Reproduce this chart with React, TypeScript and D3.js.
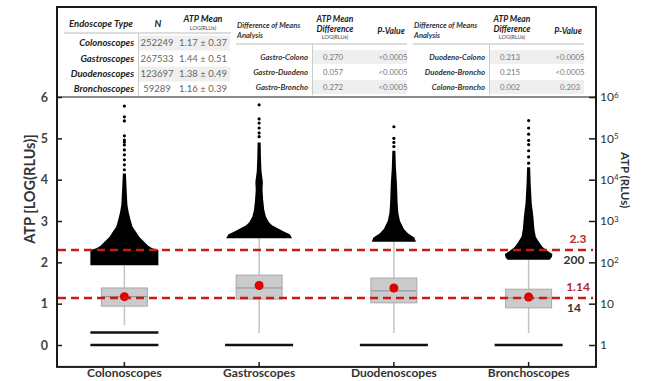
import * as d3 from 'd3';
import { useRef, useEffect } from 'react';

// categories and box statistics, LOG(RLUs)
const categories = ['Colonoscopes', 'Gastroscopes', 'Duodenoscopes', 'Bronchoscopes'];
const whiskerLow = [0.48, 0.29, 0.29, 0.29];
const q1 = [0.94, 1.11, 1.02, 0.9];
const median = [1.17, 1.38, 1.31, 1.14];
const q3 = [1.38, 1.69, 1.62, 1.35];
const whiskerHigh = [1.93, 2.58, 2.5, 2.06];
const means = [1.17, 1.44, 1.38, 1.16];

// low outliers (dense rows of points)
const lowOutliers = [[0, 0.3], [0], [0], [0]];

// high outlier density profiles: [value, relative spread]
const colonoDensity = [[1.93, 1], [2.3, 1], [2.34, 0.82], [2.4, 0.7], [2.47, 0.62], [2.54, 0.53], [2.61, 0.44], [2.73, 0.35], [2.86, 0.24], [3.03, 0.18], [3.2, 0.13], [3.39, 0.09], [3.63, 0.075], [3.87, 0.06], [4.15, 0.045]];
const gastroDensity = [[2.58, 0.97], [2.68, 0.9], [2.74, 0.74], [2.8, 0.6], [2.9, 0.38], [2.97, 0.29], [3.1, 0.2], [3.27, 0.15], [3.5, 0.12], [3.75, 0.1], [3.95, 0.11], [4.2, 0.07], [4.5, 0.055], [4.9, 0.045]];
const duodenoDensity = [[2.5, 0.65], [2.6, 0.6], [2.7, 0.42], [2.8, 0.3], [3.0, 0.18], [3.2, 0.13], [3.44, 0.11], [3.9, 0.09], [4.3, 0.06], [4.7, 0.045]];
const bronchoDensity = [[2.06, 0.62], [2.12, 0.68], [2.2, 0.7], [2.26, 0.58], [2.37, 0.41], [2.5, 0.3], [2.62, 0.21], [2.8, 0.17], [3.1, 0.14], [3.44, 0.09], [3.92, 0.06], [4.3, 0.045]];
const densities = [colonoDensity, gastroDensity, duodenoDensity, bronchoDensity];

// isolated high outliers
const colonoSparse = [4.24, 4.36, 4.48, 4.6, 4.72, 4.84, 4.91, 4.96, 5.06, 5.42, 5.52, 5.78];
const gastroSparse = [5.04, 5.13, 5.25, 5.37, 5.47, 5.81];
const duodenoSparse = [4.8, 4.9, 5.0, 5.28];
const bronchoSparse = [4.4, 4.55, 4.7, 4.85, 4.95, 5.1, 5.25, 5.43];
const sparse = [colonoSparse, gastroSparse, duodenoSparse, bronchoSparse];

// reference lines
const refLines = [2.3, 1.14];
const refRlu = ['200', '14'];

// axis ticks
const leftTicks = [0, 1, 2, 3, 4, 5, 6];
const rightTicks = [0, 1, 2, 3, 4, 5, 6];

// table data
const nValues = ['252249', '267533', '123697', '59289'];
const atpMeanText = ['1.17 ± 0.37', '1.44 ± 0.51', '1.38 ± 0.49', '1.16 ± 0.39'];
const gastroPairs = ['Gastro-Colono', 'Gastro-Duodeno', 'Gastro-Broncho'];
const gastroDiffs = ['0.270', '0.057', '0.272'];
const gastroPValues = ['<0.0005', '<0.0005', '<0.0005'];
const otherPairs = ['Duodeno-Colono', 'Duodeno-Broncho', 'Colono-Broncho'];
const otherDiffs = ['0.213', '0.215', '0.002'];
const otherPValues = ['<0.0005', '<0.0005', '0.203'];

const FONT = 'Lato, "Open Sans", sans-serif';

export default function App() {
  const ref = useRef<SVGSVGElement>(null);

  useEffect(() => {
    const svg = d3.select(ref.current);
    svg.selectAll('*').remove();

    const left = 57, right = 596, top = 7;
    const x = d3.scaleBand().domain(categories).range([left, right]).padding(0);
    const y = d3.scaleLinear().domain([0, 6]).range([345, 97]);
    const bottom = y(-0.53);
    const spread = d3.scaleLinear().domain([0, 1]).range([0, 34]);
    const cx = (i: number) => (x(categories[i]) as number) + x.bandwidth() / 2;
    const boxHalf = 23;

    // ----- tables -----
    const t = svg.append('g').style('font-family', FONT);
    const rowY1 = [43, 59, 74, 89];
    rowY1.forEach((ry, i) => {
      if (i % 2 === 0) t.append('rect').attr('x', 139).attr('y', ry - 7.5).attr('width', 91).attr('height', 15).attr('fill', '#efefef');
    });
    t.append('line').attr('x1', 64).attr('x2', 231).attr('y1', 33).attr('y2', 33).attr('stroke', '#bbb').attr('stroke-width', 1);
    t.append('line').attr('x1', 138.5).attr('x2', 138.5).attr('y1', 33).attr('y2', 96).attr('stroke', '#ccc').attr('stroke-width', 1);
    t.append('text').attr('x', 101).attr('y', 24).attr('dy', '0.35em').attr('text-anchor', 'middle')
      .style('font-size', '9.5px').style('font-weight', 700).style('font-style', 'italic').attr('fill', '#222').text('Endoscope Type');
    t.append('text').attr('x', 158).attr('y', 24).attr('dy', '0.35em').attr('text-anchor', 'middle')
      .style('font-size', '9.5px').style('font-weight', 700).style('font-style', 'italic').attr('fill', '#222').text('N');
    t.append('text').attr('x', 203).attr('y', 19).attr('dy', '0.35em').attr('text-anchor', 'middle')
      .style('font-size', '9px').style('font-weight', 700).style('font-style', 'italic').attr('fill', '#222').text('ATP Mean');
    t.append('text').attr('x', 203).attr('y', 28.5).attr('dy', '0.35em').attr('text-anchor', 'middle')
      .style('font-size', '5.5px').attr('fill', '#444').text('LOG(RLUs)');
    t.selectAll('.cat').data(categories).enter().append('text')
      .attr('x', 134).attr('y', (d, i) => rowY1[i]).attr('dy', '0.35em').attr('text-anchor', 'end')
      .style('font-size', '9.5px').style('font-weight', 700).style('font-style', 'italic').attr('fill', '#222').text(d => d);
    t.selectAll('.nv').data(nValues).enter().append('text')
      .attr('x', 157).attr('y', (d, i) => rowY1[i]).attr('dy', '0.35em').attr('text-anchor', 'middle')
      .style('font-size', '9.5px').attr('fill', '#666').text(d => d);
    t.selectAll('.am').data(atpMeanText).enter().append('text')
      .attr('x', 203).attr('y', (d, i) => rowY1[i]).attr('dy', '0.35em').attr('text-anchor', 'middle')
      .style('font-size', '9.5px').attr('fill', '#666').text(d => d);

    const rowY2 = [57, 72, 87];
    const diffTable = (dx: number, pairs: string[], diffs: string[], pvals: string[]) => {
      const g = t.append('g').attr('transform', `translate(${dx},0)`);
      rowY2.forEach((ry, i) => {
        if (i % 2 === 0) g.append('rect').attr('x', 313).attr('y', ry - 7).attr('width', 94).attr('height', 14).attr('fill', '#efefef');
      });
      g.append('line').attr('x1', 236).attr('x2', 407).attr('y1', 44).attr('y2', 44).attr('stroke', '#bbb').attr('stroke-width', 1);
      g.append('line').attr('x1', 312.5).attr('x2', 312.5).attr('y1', 44).attr('y2', 95).attr('stroke', '#ccc').attr('stroke-width', 1);
      g.append('text').attr('x', 237).attr('y', 25).attr('dy', '0.35em')
        .style('font-size', '7.5px').style('font-weight', 700).style('font-style', 'italic').attr('fill', '#333').text('Difference of Means');
      g.append('text').attr('x', 237).attr('y', 35).attr('dy', '0.35em')
        .style('font-size', '7.5px').style('font-weight', 700).style('font-style', 'italic').attr('fill', '#333').text('Analysis');
      g.append('text').attr('x', 335).attr('y', 19).attr('dy', '0.35em').attr('text-anchor', 'middle')
        .style('font-size', '8.5px').style('font-weight', 700).style('font-style', 'italic').attr('fill', '#222').text('ATP Mean');
      g.append('text').attr('x', 335).attr('y', 29).attr('dy', '0.35em').attr('text-anchor', 'middle')
        .style('font-size', '8.5px').style('font-weight', 700).style('font-style', 'italic').attr('fill', '#222').text('Difference');
      g.append('text').attr('x', 335).attr('y', 37.5).attr('dy', '0.35em').attr('text-anchor', 'middle')
        .style('font-size', '5.5px').attr('fill', '#444').text('LOG(RLUs)');
      g.append('text').attr('x', 391).attr('y', 31).attr('dy', '0.35em').attr('text-anchor', 'middle')
        .style('font-size', '8.5px').style('font-weight', 700).style('font-style', 'italic').attr('fill', '#222').text('P-Value');
      g.selectAll('.pair').data(pairs).enter().append('text')
        .attr('x', 308).attr('y', (d, i) => rowY2[i]).attr('dy', '0.35em').attr('text-anchor', 'end')
        .style('font-size', '7.8px').style('font-weight', 700).style('font-style', 'italic').attr('fill', '#333').text(d => d);
      g.selectAll('.diff').data(diffs).enter().append('text')
        .attr('x', 333).attr('y', (d, i) => rowY2[i]).attr('dy', '0.35em').attr('text-anchor', 'middle')
        .style('font-size', '7.8px').attr('fill', '#777').text(d => d);
      g.selectAll('.pv').data(pvals).enter().append('text')
        .attr('x', 393).attr('y', (d, i) => rowY2[i]).attr('dy', '0.35em').attr('text-anchor', 'middle')
        .style('font-size', '7.8px').attr('fill', '#777').text(d => d);
    };
    diffTable(0, gastroPairs, gastroDiffs, gastroPValues);
    diffTable(177, otherPairs, otherDiffs, otherPValues);

    // ----- plot -----
    const plot = svg.append('g');

    // whiskers
    plot.selectAll('.whisker').data(categories).enter().append('line')
      .attr('x1', (d, i) => cx(i)).attr('x2', (d, i) => cx(i))
      .attr('y1', (d, i) => y(whiskerLow[i])).attr('y2', (d, i) => y(whiskerHigh[i]))
      .attr('stroke', '#c4c4c4').attr('stroke-width', 1.5);

    // boxes
    plot.selectAll('.box').data(categories).enter().append('rect')
      .attr('x', (d, i) => cx(i) - boxHalf).attr('width', boxHalf * 2)
      .attr('y', (d, i) => y(q3[i])).attr('height', (d, i) => y(q1[i]) - y(q3[i]))
      .attr('fill', '#cbcbcb').attr('stroke', '#a9a9a9').attr('stroke-width', 1);
    plot.selectAll('.med').data(categories).enter().append('line')
      .attr('x1', (d, i) => cx(i) - boxHalf).attr('x2', (d, i) => cx(i) + boxHalf)
      .attr('y1', (d, i) => y(median[i])).attr('y2', (d, i) => y(median[i]))
      .attr('stroke', '#8f8f8f').attr('stroke-width', 1);

    // outlier masses
    densities.forEach((dens, i) => {
      const area = d3.area<number[]>()
        .y(d => y(d[0]))
        .x0(d => cx(i) - spread(d[1]))
        .x1(d => cx(i) + spread(d[1]))
        .curve(d3.curveLinear);
      plot.append('path').attr('d', area(dens)).attr('fill', '#000');
      plot.selectAll(`.sp${i}`).data(sparse[i]).enter().append('circle')
        .attr('cx', cx(i)).attr('cy', d => y(d)).attr('r', 1.6).attr('fill', '#000');
      plot.selectAll(`.lo${i}`).data(lowOutliers[i]).enter().append('line')
        .attr('x1', cx(i) - spread(1)).attr('x2', cx(i) + spread(1))
        .attr('y1', d => y(d)).attr('y2', d => y(d))
        .attr('stroke', '#111').attr('stroke-width', 2.5);
    });

    // means
    plot.selectAll('.mean').data(means).enter().append('circle')
      .attr('cx', (d, i) => cx(i)).attr('cy', d => y(d)).attr('r', 4.5).attr('fill', '#e00000');

    // reference dashed lines
    plot.selectAll('.ref').data(refLines).enter().append('line')
      .attr('x1', left + 1).attr('x2', right - 3)
      .attr('y1', d => y(d)).attr('y2', d => y(d))
      .attr('stroke', '#cc1a1a').attr('stroke-width', 2.5).attr('stroke-dasharray', '8,5');
    plot.selectAll('.refLab').data(refLines).enter().append('text')
      .attr('x', 578).attr('y', d => y(d) - 7).attr('text-anchor', 'middle')
      .style('font-family', FONT).style('font-size', '12px').style('font-weight', 700)
      .attr('fill', '#b2282e').text(d => String(d));
    plot.selectAll('.refRlu').data(refRlu).enter().append('text')
      .attr('x', 574).attr('y', (d, i) => y(refLines[i]) + 14).attr('text-anchor', 'middle')
      .style('font-family', FONT).style('font-size', '12px').style('font-weight', 700)
      .attr('fill', '#333').text(d => d);

    // ----- frame and axes -----
    svg.append('line').attr('x1', left).attr('x2', right).attr('y1', y(6)).attr('y2', y(6))
      .attr('stroke', '#666').attr('stroke-width', 1.3);
    svg.append('rect').attr('x', left).attr('y', top).attr('width', right - left).attr('height', bottom - top)
      .attr('fill', 'none').attr('stroke', '#1a1a1a').attr('stroke-width', 2);

    const yLeft = svg.append('g').attr('transform', `translate(${left},0)`)
      .call(d3.axisLeft(y).tickValues(leftTicks).tickSize(-5).tickPadding(9).tickFormat(d3.format('d')));
    yLeft.select('.domain').remove();
    yLeft.selectAll('line').attr('stroke', '#1a1a1a').attr('stroke-width', 1.5);
    yLeft.selectAll('text').style('font-family', FONT).style('font-size', '12.5px').style('font-weight', 700).attr('fill', '#444');

    const yRight = svg.append('g').attr('transform', `translate(${right},0)`)
      .call(d3.axisRight(y).tickValues(rightTicks).tickSize(-7).tickPadding(11).tickFormat(() => ''));
    yRight.select('.domain').remove();
    yRight.selectAll('line').attr('stroke', '#1a1a1a').attr('stroke-width', 1.5);
    yRight.selectAll('.tick text').each(function (d: any) {
      const el = d3.select(this).style('font-family', FONT).style('font-size', '12px').attr('fill', '#333').attr('x', 4);
      if (d === 0) el.text('1');
      else if (d === 1) el.text('10');
      else {
        el.append('tspan').text('10');
        el.append('tspan').attr('dy', '-0.45em').style('font-size', '8px').text(String(d));
      }
    });

    const xAxis = svg.append('g').attr('transform', `translate(0,${bottom})`)
      .call(d3.axisBottom(x).tickSize(-5).tickPadding(1.5));
    xAxis.select('.domain').remove();
    xAxis.selectAll('line').attr('stroke', '#1a1a1a').attr('stroke-width', 1.5);
    xAxis.selectAll('text').attr('dy', '0.68em').style('font-family', FONT).style('font-size', '12px').style('font-weight', 700).attr('fill', '#333');

    svg.append('text').attr('transform', `translate(30,${189}) rotate(-90)`).attr('text-anchor', 'middle').attr('dy', '0.35em')
      .style('font-family', FONT).style('font-size', '14.5px').style('font-weight', 700).attr('fill', '#333')
      .text('ATP [LOG(RLUs)]');
    svg.append('text').attr('transform', `translate(625,${180}) rotate(90)`).attr('text-anchor', 'middle').attr('dy', '0.35em')
      .style('font-family', FONT).style('font-size', '11.5px').style('font-weight', 700).attr('fill', '#333')
      .text('ATP (RLUs)');
  }, []);

  return (
    <svg ref={ref} width={649} height={381} style={{ position: 'absolute', left: 0, top: 0, background: '#fff' }}></svg>
  );
}
